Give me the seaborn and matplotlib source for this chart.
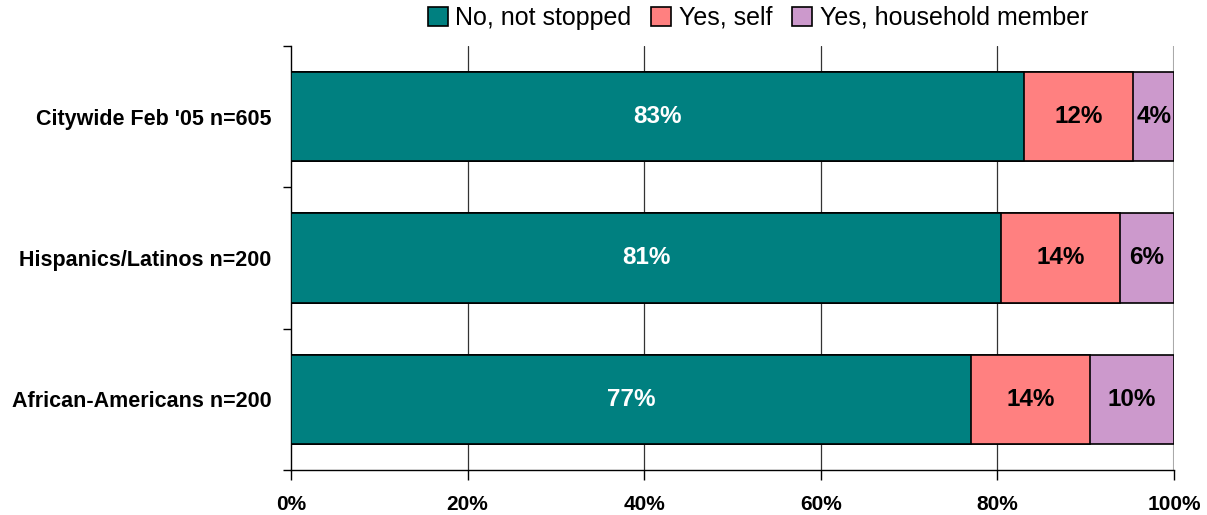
import matplotlib
matplotlib.use("Agg")
import matplotlib.pyplot as plt
import seaborn as sns
import pandas as pd
import numpy as np
from matplotlib.patches import Patch
from matplotlib.ticker import FixedLocator, PercentFormatter

categories = ["Citywide Feb '05 n=605", "Hispanics/Latinos n=200", "African-Americans n=200"]
series_names = ["No, not stopped", "Yes, self", "Yes, household member"]
no_not_stopped = [83.0, 80.4, 77.0]
yes_self = [12.4, 13.5, 13.5]
yes_household = [4.6, 6.1, 9.5]
labels_no = ["83%", "81%", "77%"]
labels_self = ["12%", "14%", "14%"]
labels_household = ["4%", "6%", "10%"]
x_ticks = [0, 20, 40, 60, 80, 100]

colors = ["#008080", "#FF8080", "#CC99CC"]
text_colors = ["white", "black", "black"]

sns.set_theme(style="white")
plt.rcParams['font.family'] = ['Liberation Sans', 'DejaVu Sans']
plt.rcParams['text.color'] = 'black'
plt.rcParams['xtick.color'] = 'black'
plt.rcParams['ytick.color'] = 'black'

fig = plt.figure(figsize=(12.07, 5.15), dpi=100)
ax = fig.add_axes([291/1207, 1-470/515, (1174-291)/1207, (470-46)/515])

df = pd.DataFrame({"category": categories,
                   "no": no_not_stopped, "self": yes_self, "hh": yes_household})
df["c1"] = df["no"]
df["c2"] = df["no"] + df["self"]
df["c3"] = df["c2"] + df["hh"]

for col, color in zip(["c3", "c2", "c1"], colors[::-1]):
    sns.barplot(data=df, x=col, y="category", orient="y", color=color,
                edgecolor="black", linewidth=1.2, width=0.63, ax=ax,
                saturation=1, zorder=3)

segments = [(df["no"], np.zeros(3), labels_no),
            (df["self"], df["c1"].values, labels_self),
            (df["hh"], df["c2"].values, labels_household)]
for (vals, lefts, labs), tc in zip(segments, text_colors):
    for i, (v, l, lab) in enumerate(zip(vals, lefts, labs)):
        ax.text(l + v/2, i, lab, ha="center", va="center", color=tc,
                fontsize=17.5, fontweight="bold", zorder=5)

ax.set_xlim(0, 100)
ax.set_ylim(2.5, -0.5)
ax.set_xlabel("")
ax.set_ylabel("")
ax.xaxis.set_major_locator(FixedLocator(x_ticks))
ax.xaxis.set_major_formatter(PercentFormatter(decimals=0))
for x in x_ticks[1:-1]:
    ax.axvline(x, color="#333333", linewidth=0.9, zorder=1)
ax.axvline(100, color="#aaaaaa", linewidth=1.5, zorder=1)

ax.set_yticks([-0.5, 0.5, 1.5, 2.5], minor=True)
ax.tick_params(axis="y", which="major", length=0, pad=14, labelsize=15.5)
ax.tick_params(axis="y", which="minor", length=6, width=1, color="black", left=True)
ax.tick_params(axis="x", which="major", length=7, width=1, color="black", bottom=True,
               pad=11, labelsize=15)
for lab in ax.get_yticklabels() + ax.get_xticklabels():
    lab.set_fontweight("bold")
    lab.set_color("black")

for s in ["top", "right"]:
    ax.spines[s].set_visible(False)
for s in ["left", "bottom"]:
    ax.spines[s].set_color("black")
    ax.spines[s].set_linewidth(1.0)
ax.spines["bottom"].set_zorder(6)

handles = [Patch(facecolor=c, edgecolor="black", linewidth=1.2) for c in colors]
leg = fig.legend(handles, series_names, loc="center", bbox_to_anchor=(758/1207, 1-18/515),
                 ncol=3, frameon=False, fontsize=18, handlelength=0.8, handleheight=0.8,
                 handletextpad=0.3, columnspacing=0.8)
for t in leg.get_texts():
    t.set_color("black")

fig.savefig("out.png", dpi=100)
